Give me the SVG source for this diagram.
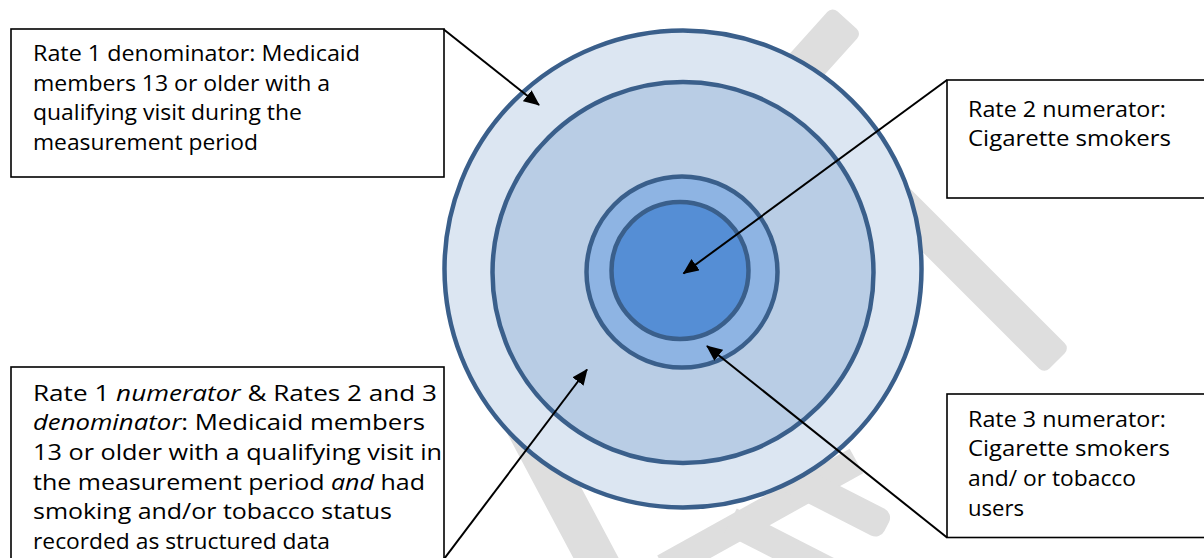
<svg xmlns="http://www.w3.org/2000/svg" width="1204" height="558" viewBox="0 0 1204 558">
  <style>
    .wm { fill: #dedede; }
    .ring { stroke: #3a5f8b; stroke-width: 4.5; }
    .box { fill: #ffffff; stroke: #000000; stroke-width: 1.6; }
    .lbl { font-family: "Open Sans", "Liberation Sans", sans-serif; font-size: 22.5px; fill: #000000; }
    .conn { stroke: #000000; stroke-width: 2; fill: none; marker-end: url(#arrow); }
  </style>
  <defs>
    <marker id="arrow" markerUnits="userSpaceOnUse" markerWidth="16" markerHeight="14" refX="15" refY="7" orient="auto">
      <path d="M0,0 L16,7 L0,14 Z" fill="#000000"/>
    </marker>
  </defs>

  <rect width="1204" height="558" fill="#ffffff"/>

  <!-- faint watermark strokes behind the target -->
  <g id="watermark">
    <rect class="wm" x="0" y="-20" width="260" height="40" rx="7" transform="translate(847,20) rotate(132)"/>
    <rect class="wm" x="0" y="-18" width="260" height="36" rx="7" transform="translate(1057,361) rotate(225)"/>
    <rect class="wm" x="-30" y="-20" width="230" height="40" rx="7" transform="translate(596,558) rotate(242)"/>
    <rect class="wm" x="-20" y="-14" width="220" height="28" transform="translate(681.5,558) rotate(-29)"/>
    <rect class="wm" x="-10" y="-14" width="130" height="28" transform="translate(739.3,525.5) rotate(27)"/>
    <rect class="wm" x="0" y="-15" width="160" height="30" rx="10" transform="translate(886.7,526.6) rotate(207)"/>
  </g>

  <!-- concentric population rings -->
  <g id="ring-outer"><circle class="ring" cx="683" cy="269" r="238.5" fill="#dce6f2"/></g>
  <g id="ring-second"><circle class="ring" cx="683" cy="272.5" r="190.5" fill="#b9cde5"/></g>
  <g id="ring-third"><circle class="ring" cx="682" cy="272" r="95.5" fill="#8eb4e3"/></g>
  <g id="ring-inner"><circle class="ring" cx="680" cy="270.5" r="68.5" fill="#558ed5"/></g>

  <!-- label boxes -->
  <g id="rate1-denominator">
    <rect class="box" x="11" y="29" width="433" height="148"/>
    <text class="lbl" x="33" y="61" textLength="327" lengthAdjust="spacingAndGlyphs">Rate 1 denominator: Medicaid</text>
    <text class="lbl" x="33" y="90.7" textLength="297" lengthAdjust="spacingAndGlyphs">members 13 or older with a</text>
    <text class="lbl" x="33" y="120.4" textLength="269" lengthAdjust="spacingAndGlyphs">qualifying visit during the</text>
    <text class="lbl" x="33" y="150" textLength="225" lengthAdjust="spacingAndGlyphs">measurement period</text>
  </g>

  <g id="rate1-numerator">
    <rect class="box" x="11" y="367" width="433" height="200"/>
    <text class="lbl" x="33" y="400.7" textLength="404" lengthAdjust="spacingAndGlyphs">Rate 1 <tspan font-style="italic">numerator</tspan> &amp; Rates 2 and 3</text>
    <text class="lbl" x="33" y="430.3" textLength="392" lengthAdjust="spacingAndGlyphs"><tspan font-style="italic">denominator</tspan>: Medicaid members</text>
    <text class="lbl" x="33" y="460" textLength="409" lengthAdjust="spacingAndGlyphs">13 or older with a qualifying visit in</text>
    <text class="lbl" x="33" y="489.7" textLength="392" lengthAdjust="spacingAndGlyphs">the measurement period <tspan font-style="italic">and</tspan> had</text>
    <text class="lbl" x="33" y="519.3" textLength="359" lengthAdjust="spacingAndGlyphs">smoking and/or tobacco status</text>
    <text class="lbl" x="33" y="549" textLength="297" lengthAdjust="spacingAndGlyphs">recorded as structured data</text>
  </g>

  <g id="rate2-numerator">
    <rect class="box" x="947" y="80" width="270" height="118"/>
    <text class="lbl" x="968" y="116.7" textLength="198" lengthAdjust="spacingAndGlyphs">Rate 2 numerator:</text>
    <text class="lbl" x="968" y="146.3" textLength="203" lengthAdjust="spacingAndGlyphs">Cigarette smokers</text>
  </g>

  <g id="rate3-numerator">
    <rect class="box" x="947" y="394" width="270" height="143.5"/>
    <text class="lbl" x="968" y="426.7" textLength="198" lengthAdjust="spacingAndGlyphs">Rate 3 numerator:</text>
    <text class="lbl" x="968" y="456.3" textLength="202" lengthAdjust="spacingAndGlyphs">Cigarette smokers</text>
    <text class="lbl" x="968" y="486" textLength="168" lengthAdjust="spacingAndGlyphs">and/ or tobacco</text>
    <text class="lbl" x="968" y="515.6" textLength="56" lengthAdjust="spacingAndGlyphs">users</text>
  </g>

  <!-- callout connectors -->
  <g id="connectors">
    <line class="conn" x1="443.5" y1="29.3" x2="539" y2="105"/>
    <line class="conn" x1="947" y1="80" x2="683.5" y2="273.5"/>
    <line class="conn" x1="947" y1="537.5" x2="707" y2="346"/>
    <line class="conn" x1="444" y1="559" x2="587" y2="369.5"/>
  </g>
</svg>
